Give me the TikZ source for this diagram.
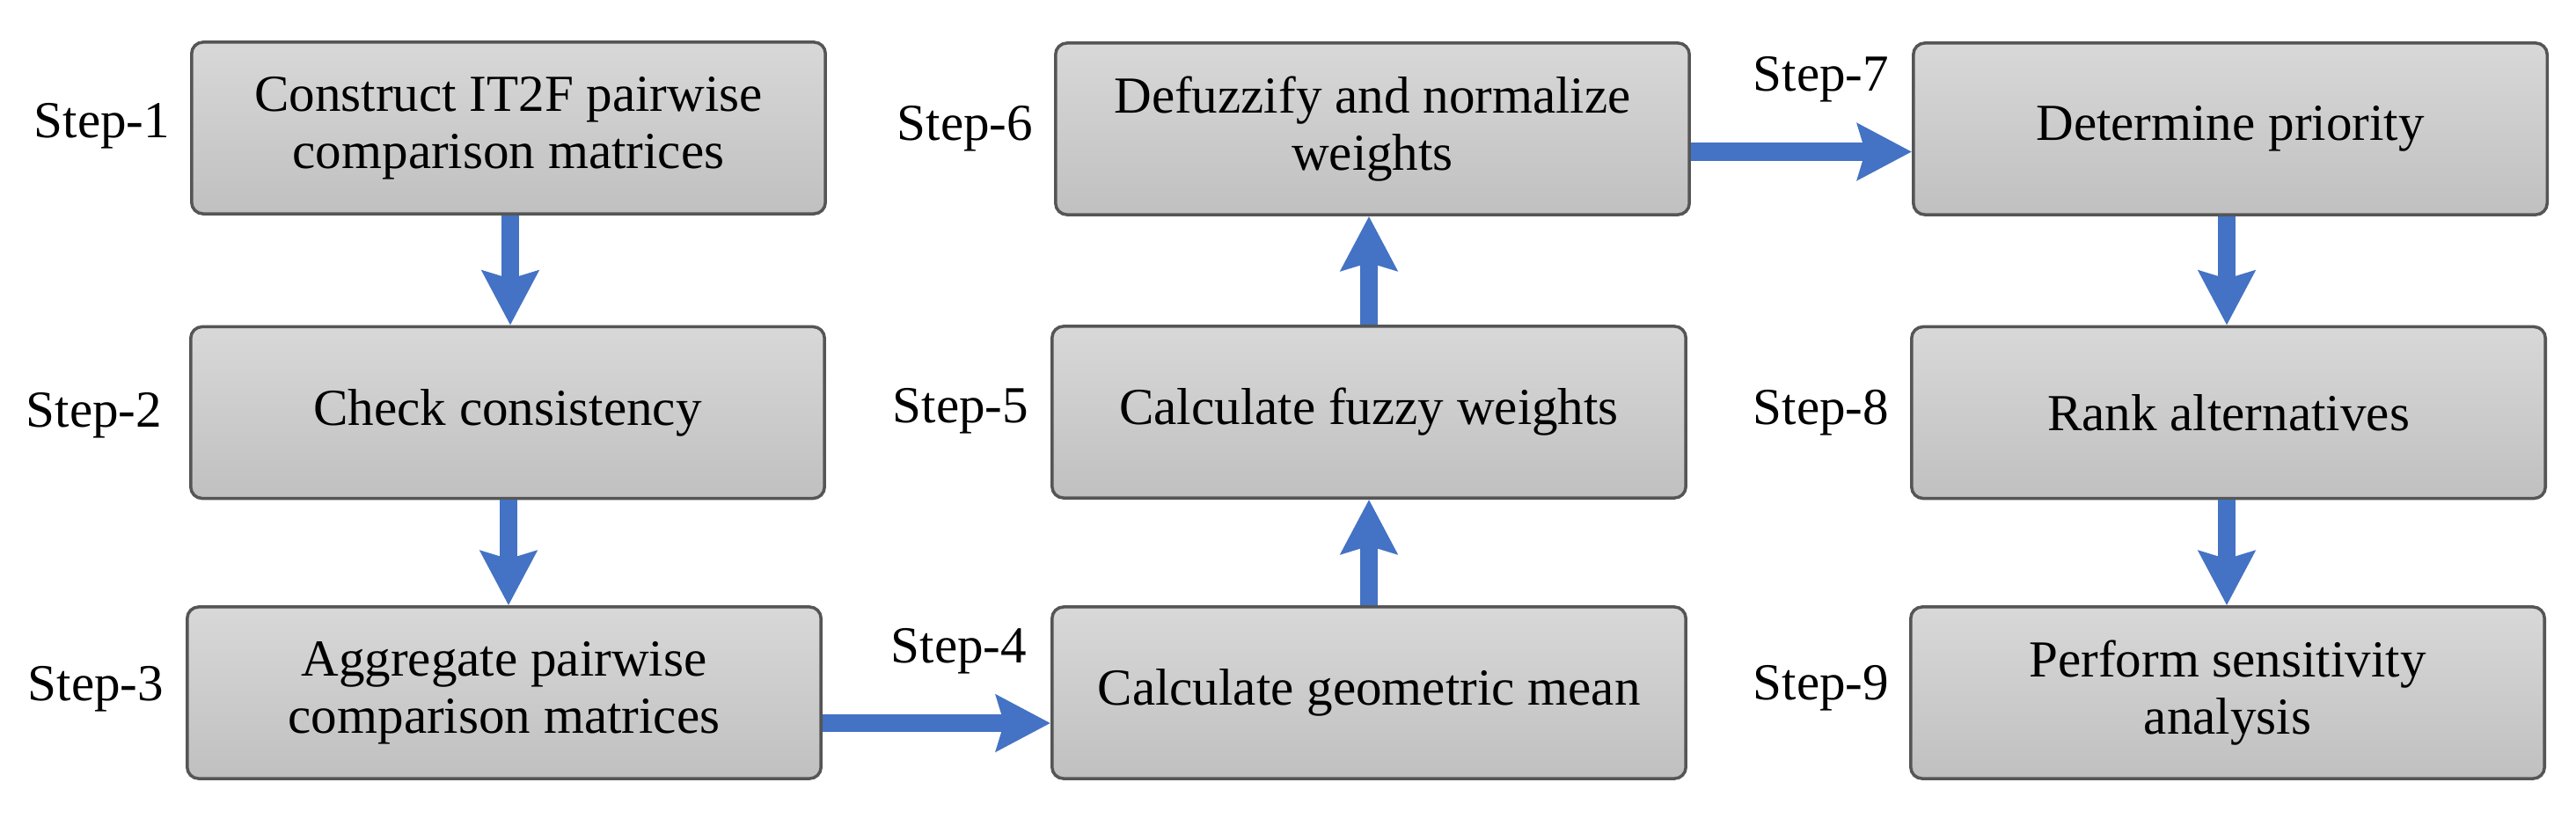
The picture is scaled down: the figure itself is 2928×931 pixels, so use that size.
\documentclass[tikz,border=0pt]{standalone}
\usepackage{fontspec}
\setmainfont{Liberation Serif}
\usetikzlibrary{arrows.meta}
\definecolor{arrowblue}{RGB}{68,114,196}
\definecolor{boxtop}{RGB}{216,216,216}
\definecolor{boxbot}{RGB}{192,192,192}
\definecolor{boxline}{RGB}{85,85,85}
\tikzset{
  stepbox/.style={rectangle, rounded corners=0.13cm, draw=boxline, line width=1pt,
    top color=boxtop, bottom color=boxbot, minimum width=7.2cm, minimum height=1.95cm,
    align=center, font=\fontsize{16.8}{18.4}\selectfont, inner sep=2pt},
  steplabel/.style={font=\fontsize{16.8}{18.4}\selectfont, inner sep=0pt},
  flow/.style={draw=arrowblue, line width=5.8pt,
    -{Stealth[length=17.5pt, width=18pt, inset=2.5pt, fill=arrowblue]}}
}
\begin{document}
\begin{tikzpicture}[x=0.01cm, y=-0.01cm]
\useasboundingbox (0,0) rectangle (2928,931);
% boxes
\node[stepbox] (b1) at (578,145.5) {Construct IT2F pairwise\\comparison matrices};
\node[stepbox] (b2) at (577,469) {Check consistency};
\node[stepbox] (b3) at (573,787.5) {Aggregate pairwise\\comparison matrices};
\node[stepbox] (b4) at (1556,787.5) {Calculate geometric mean};
\node[stepbox] (b5) at (1556,468.5) {Calculate fuzzy weights};
\node[stepbox] (b6) at (1560,146.5) {Defuzzify and normalize\\weights};
\node[stepbox] (b7) at (2535,146.5) {Determine priority};
\node[stepbox] (b8) at (2533,469) {Rank alternatives};
\node[stepbox] (b9) at (2532,787.5) {Perform sensitivity\\analysis};
% step labels
\node[steplabel] (s1) at (116,143) {Step-1};
\node[steplabel] (s2) at (107,472) {Step-2};
\node[steplabel] (s3) at (109,783) {Step-3};
\node[steplabel] (s4) at (1090,740) {Step-4};
\node[steplabel] (s5) at (1092,467) {Step-5};
\node[steplabel] (s6) at (1097,146) {Step-6};
\node[steplabel] (s7) at (2070,90) {Step-7};
\node[steplabel] (s8) at (2070,469) {Step-8};
\node[steplabel] (s9) at (2070,782) {Step-9};
% connectors
\draw[flow] (b1.south -| 580,0) -- (b2.north -| 580,0);
\draw[flow] (b2.south -| 578,0) -- (b3.north -| 578,0);
\draw[flow] ([yshift=-0.345cm]b3.east) -- ([yshift=-0.345cm]b4.west);
\draw[flow] (b4.north -| 1556,0) -- (b5.south -| 1556,0);
\draw[flow] (b5.north -| 1556,0) -- (b6.south -| 1556,0);
\draw[flow] ([yshift=-0.26cm]b6.east) -- ([yshift=-0.26cm]b7.west);
\draw[flow] (b7.south -| 2531,0) -- (b8.north -| 2531,0);
\draw[flow] (b8.south -| 2531,0) -- (b9.north -| 2531,0);
\end{tikzpicture}
\end{document}
